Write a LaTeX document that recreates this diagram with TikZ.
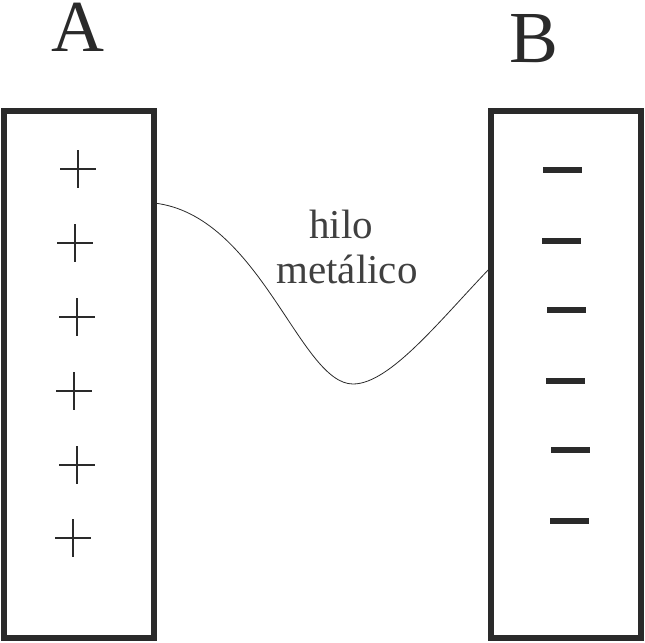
\documentclass[tikz,border=0pt]{standalone}
\usepackage{fontspec}
\setmainfont{Liberation Serif}
\definecolor{ink}{HTML}{2A2A2A}
\definecolor{txt}{HTML}{404040}
\begin{document}
\begin{tikzpicture}[x=0.75pt,y=-0.75pt,
  plate/.style={draw=ink,line width=4.5pt,minimum width=112.5pt,minimum height=395.6pt,inner sep=0pt,outer sep=0pt},
  plussign/.style={draw=ink,line width=1.7pt},
  minussign/.style={draw=ink,line width=3.9pt},
  bigletter/.style={text=ink,font=\fontsize{55}{60}\selectfont,anchor=base,inner sep=0pt},
  wirelabel/.style={text=txt,font=\fontsize{30.75}{34}\selectfont,anchor=base,inner sep=0pt},
  wire/.style={draw=ink,line width=0.6pt}]
\useasboundingbox (0,0) rectangle (645,642);
\node[plate] (boxA) at (79,374.25) {};
\node[plate] (boxB) at (566,374.25) {};
\node[bigletter] (labA) at (78,51.5) {A};
\node[bigletter] (labB) at (533.5,63) {B};
% plus signs
\foreach \i/\x/\y in {1/78/169,2/75/243,3/77/317,4/74/391,5/77/465,6/73/538}{
  \coordinate (p\i) at (\x,\y);
  \draw[plussign] ([xshift=-13.5pt]p\i) -- ([xshift=13.5pt]p\i);
  \draw[plussign] ([yshift=-13.9pt]p\i) -- ([yshift=13.9pt]p\i);
}
% minus signs
\foreach \i/\x/\y in {1/562.5/170,2/561.5/241,3/566.5/310,4/565.5/381,5/570.5/450,6/569.5/521}{
  \coordinate (m\i) at (\x,\y);
  \draw[minussign] ([xshift=-14.6pt]m\i) -- ([xshift=14.6pt]m\i);
}
% wire
\coordinate (w0) at (154,203);
\coordinate (wlow) at (353,384);
\coordinate (w1) at (491,267);
\draw[wire] (w0) .. controls (260,215) and (300,384) .. (wlow)
                 .. controls (390,384) and (440,320) .. (w1);
\node[wirelabel] (hilo) at (341,238) {hilo};
\node[wirelabel] (metal) at (347,283) {metálico};
\end{tikzpicture}
\end{document}
